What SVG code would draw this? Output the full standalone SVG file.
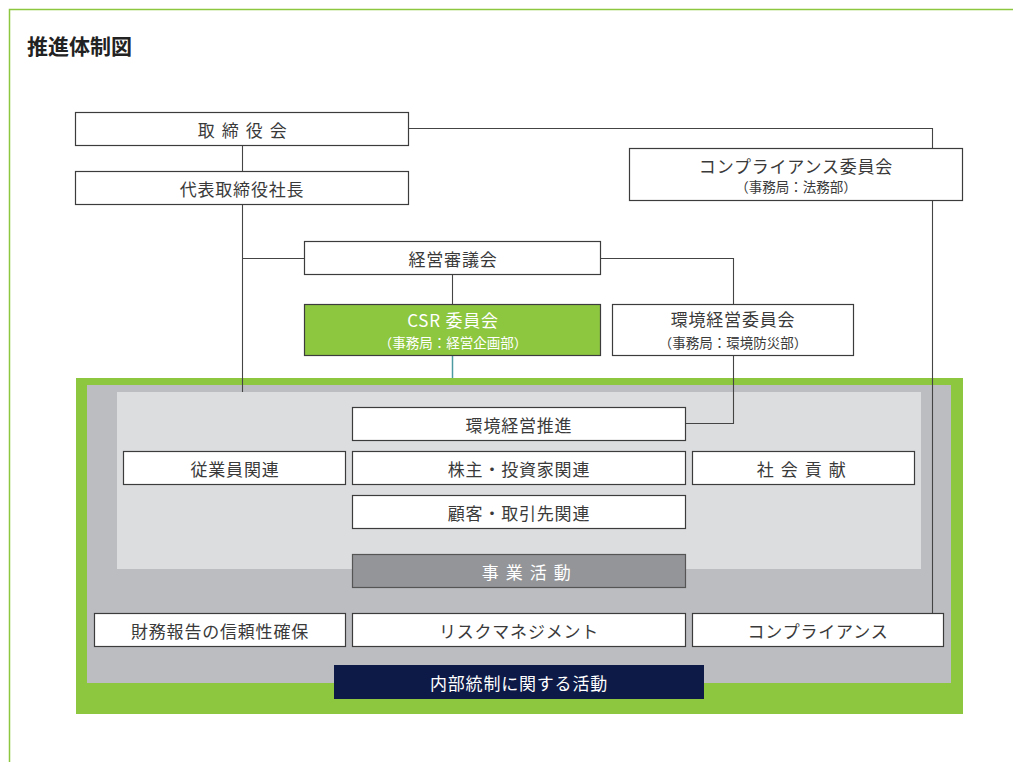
<svg xmlns="http://www.w3.org/2000/svg" width="1013" height="762" viewBox="0 0 1013 762">
<style>
text{font-family:"Noto Sans CJK JP","Noto Sans",sans-serif;fill:#3a3a3a;dominant-baseline:central;text-anchor:middle}
.b{fill:#fff;stroke:#3c3c3c;stroke-width:1.2}
.t{font-size:17px;letter-spacing:0.8px}
.s{font-size:13.5px}
.w{fill:#fff}
.sp{letter-spacing:1.6px}
#conn line,#conn polyline{stroke:#444;stroke-width:1.1;fill:none}
</style>
<rect width="1013" height="762" fill="#fff"/>
<polyline points="9.5,762 9.5,9.5 1013,9.5" fill="none" stroke="#8dc63f" stroke-width="1.5"/>
<text x="27" y="45" style="font-size:21px;font-weight:bold;text-anchor:start;fill:#222">推進体制図</text>
<g id="areas">
<rect x="76" y="378" width="887" height="336" fill="#8dc63f"/>
<rect x="87" y="385" width="864" height="298" fill="#bcbdc0"/>
<rect x="117" y="392" width="804" height="177" fill="#dcdddf"/>
</g>
<g id="conn">
<line x1="242.5" y1="145" x2="242.5" y2="171"/>
<line x1="242.5" y1="204" x2="242.5" y2="392"/>
<polyline points="408,128.5 932.5,128.5 932.5,149"/>
<line x1="932.5" y1="200" x2="932.5" y2="614"/>
<line x1="242.5" y1="258.5" x2="305" y2="258.5"/>
<polyline points="600,258.5 733.5,258.5 733.5,305"/>
<polyline points="733.5,355 733.5,423.5 685,423.5"/>
<line x1="452.5" y1="274" x2="452.5" y2="305"/>
<line x1="452.5" y1="355" x2="452.5" y2="378" style="stroke:#4e9aa3;stroke-width:1.5"/>
</g>
<g id="n-torishimariyakukai"><rect class="b" x="75.5" y="112.5" width="333" height="33"/><text class="t sp" x="243" y="129">取 締 役 会</text></g>
<g id="n-shacho"><rect class="b" x="75.5" y="171.5" width="333" height="33"/><text class="t" x="242" y="188">代表取締役社長</text></g>
<g id="n-compliance-iinkai"><rect class="b" x="629.5" y="148.5" width="333" height="52"/><text class="t" x="796" y="165">コンプライアンス委員会</text><text class="s" x="796" y="186">（事務局：法務部）</text></g>
<g id="n-keiei-shingikai"><rect class="b" x="304.5" y="241.5" width="296" height="33"/><text class="t" x="453" y="258">経営審議会</text></g>
<g id="n-csr"><rect x="304.5" y="304.5" width="296" height="51" fill="#8dc63f" stroke="#3c3c3c" stroke-width="1.2"/><text class="t w" x="453" y="319">CSR 委員会</text><text class="s w" x="453" y="342">（事務局：経営企画部）</text></g>
<g id="n-kankyo-iinkai"><rect class="b" x="612.5" y="304.5" width="241" height="51"/><text class="t" x="733" y="318">環境経営委員会</text><text class="s" x="733" y="342">（事務局：環境防災部）</text></g>
<g id="n-kankyo-suishin"><rect class="b" x="352.5" y="407.5" width="333" height="33"/><text class="t" x="519" y="424">環境経営推進</text></g>
<g id="n-jugyoin"><rect class="b" x="123.5" y="451.5" width="222" height="33"/><text class="t" x="235" y="468">従業員関連</text></g>
<g id="n-kabunushi"><rect class="b" x="352.5" y="451.5" width="333" height="33"/><text class="t" x="519" y="468">株主・投資家関連</text></g>
<g id="n-shakai"><rect class="b" x="692.5" y="451.5" width="222" height="33"/><text class="t sp" x="802" y="468">社 会 貢 献</text></g>
<g id="n-kokyaku"><rect class="b" x="352.5" y="495.5" width="333" height="33"/><text class="t" x="519" y="512">顧客・取引先関連</text></g>
<g id="n-jigyo"><rect x="352.5" y="554.5" width="333" height="33" fill="#939598" stroke="#555" stroke-width="1.2"/><text class="t sp w" x="527" y="571">事 業 活 動</text></g>
<g id="n-zaimu"><rect class="b" x="94.5" y="613.5" width="251" height="33"/><text class="t" x="220" y="630">財務報告の信頼性確保</text></g>
<g id="n-risk"><rect class="b" x="352.5" y="613.5" width="333" height="33"/><text class="t" x="519" y="630">リスクマネジメント</text></g>
<g id="n-compliance"><rect class="b" x="692.5" y="613.5" width="251" height="33"/><text class="t" x="818" y="630">コンプライアンス</text></g>
<g id="n-naibu"><rect x="334" y="665" width="370" height="34" fill="#0d1a47"/><text class="t w" x="519" y="682">内部統制に関する活動</text></g>
</svg>
